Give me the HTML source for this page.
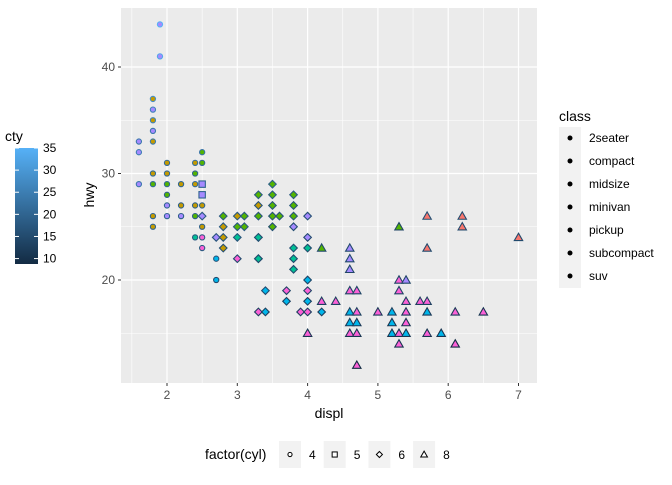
<!DOCTYPE html>
<html><head><meta charset="utf-8"><style>
body{margin:0;background:#fff;font-family:"Liberation Sans",sans-serif;}
svg text{font-family:"Liberation Sans",sans-serif;}
</style></head><body>
<svg id="chart" width="672" height="480" xmlns="http://www.w3.org/2000/svg">
<rect x="0" y="0" width="672" height="480" fill="#fff"/>
<rect x="121" y="8" width="416" height="375" fill="#EBEBEB"/>
<g id="grid"></g>
<g id="axes"></g>
<g id="points"></g>
<text x="329" y="418" font-size="14" text-anchor="middle" fill="#000">displ</text>
<text x="94" y="195" font-size="14" text-anchor="middle" fill="#000" transform="rotate(-90 94 195)">hwy</text>
<g>
<text x="5" y="141" font-size="14" fill="#000">cty</text>
<defs><linearGradient id="ctyg" x1="0" y1="1" x2="0" y2="0"><stop offset="0" stop-color="#132B43"/><stop offset="1" stop-color="#56B1F7"/></linearGradient></defs>
<rect x="15" y="148" width="23" height="116" fill="url(#ctyg)"/>
<g id="ctyticks"></g>
</g>
<g>
<text x="559" y="121" font-size="14" fill="#000">class</text>
<rect x="559" y="127" width="22" height="161" fill="#F2F2F2"/>
<g id="classkeys"></g>
</g>
<g>
<text x="205" y="459" font-size="14" fill="#000">factor(cyl)</text>
<g id="cylkeys"></g>
</g>
</svg>
<script>
const NS="http://www.w3.org/2000/svg";
const xTicks=[2,3,4,5,6,7];
const yTicks=[20,30,40];
const classes=["2seater","compact","midsize","minivan","pickup","subcompact","suv"];
const classColors=["#F8766D","#C49A00","#53B400","#00C094","#00B6EB","#A58AFF","#FB61D7"];
const cylLevels=[4,5,6,8];
const ctyTicks=[10,15,20,25,30,35];
// points: displ, hwy, cyl, class, cty
const displ=[1.9,1.9,1.8,1.8,1.8,1.8,1.8,1.6,1.6,2.5,2.0,2.4,2.5,1.8,2.0,2.4,1.6,1.8,2.0,2.2,2.4,2.5,2.0,2.5,2.0,2.2,2.4,2.5,1.8,2.0,2.2,2.4,2.5,2.8,3.0,3.1,3.3,1.8,2.5,2.8,3.0,3.1,2.4,2.5,2.7,2.8,3.0,3.3,2.5,2.8,2.7,3.0,3.3,2.7,
3.5,3.3,3.5,3.8,3.3,3.5,3.8,3.5,3.6,3.8,4.0,3.5,3.8,3.3,4.0,3.8,4.0,4.2,4.6,3.3,3.8,4.6,3.8,4.6,4.0,3.4,3.7,4.0,4.6,4.7,3.7,4.0,4.2,4.4,3.3,3.4,3.9,4.0,4.2,
5.7,6.2,5.3,6.2,7.0,5.7,5.3,5.4,5.3,5.4,5.6,5.7,4.6,4.7,5.0,5.2,5.4,5.7,6.1,6.5,4.6,4.7,5.2,5.4,4.0,4.6,4.7,5.2,5.3,5.4,5.7,5.9,5.3,6.1,4.7];
const hwy=[44,41,37,36,35,34,33,33,32,32,31,31,31,30,30,30,29,29,29,29,29,29,28,28,27,27,27,27,26,26,26,26,26,26,26,26,26,25,25,25,25,25,24,24,24,24,24,24,23,23,22,22,22,20,
29,28,28,28,27,27,27,26,26,26,26,25,25,24,24,23,23,23,23,22,22,22,21,21,20,19,19,19,19,19,18,18,18,18,17,17,17,17,17,
26,26,25,25,24,23,20,20,19,18,18,18,17,17,17,17,17,17,17,17,16,16,16,16,15,15,15,15,15,15,15,15,14,14,12];
const cyl=[4,4,4,4,4,4,4,4,4,4,4,4,4,4,4,4,4,4,4,4,4,5,4,5,4,4,4,4,4,4,4,4,6,6,6,6,6,4,4,6,6,6,4,4,6,6,6,6,4,6,4,6,6,4,
6,6,6,6,6,6,6,6,6,6,6,6,6,6,6,6,6,8,8,6,6,8,6,8,6,6,6,6,8,8,6,6,8,8,6,6,6,6,6,
8,8,8,8,8,8,8,8,8,8,8,8,8,8,8,8,8,8,8,8,8,8,8,8,8,8,8,8,8,8,8,8,8,8,8];
const cls=["subcompact","subcompact","compact","subcompact","compact","subcompact","compact","subcompact","subcompact","midsize","compact","compact","midsize","compact","compact","midsize","subcompact","midsize","midsize","compact","compact","subcompact","midsize","subcompact","subcompact","compact","compact","compact","compact","subcompact","subcompact","midsize","subcompact","midsize","compact","midsize","midsize","compact","compact","compact","midsize","midsize","minivan","suv","subcompact","compact","minivan","minivan","suv","compact","pickup","suv","minivan","pickup",
"midsize","midsize","midsize","midsize","compact","midsize","midsize","midsize","midsize","midsize","subcompact","midsize","subcompact","minivan","subcompact","minivan","minivan","midsize","subcompact","minivan","minivan","subcompact","minivan","subcompact","pickup","pickup","suv","suv","suv","suv","pickup","pickup","suv","suv","suv","pickup","suv","suv","pickup",
"2seater","2seater","midsize","2seater","2seater","2seater","suv","subcompact","suv","suv","suv","suv","pickup","suv","suv","pickup","suv","pickup","suv","suv","pickup","pickup","pickup","suv","suv","suv","suv","pickup","suv","pickup","suv","pickup","suv","suv","suv"];
const cty=[35,33,28,26,26,24,24,24,25,23,21,22,21,21,21,20,24,21,21,20,21,20,19,20,20,19,19,20,20,20,19,19,18,18,18,18,17,20,19,18,18,18,18,18,17,17,17,16,18,16,17,15,16,15,
19,18,18,18,17,17,17,17,17,17,16,16,16,16,15,16,15,15,15,15,15,15,15,14,14,15,14,14,14,14,13,13,13,13,13,13,13,13,13,
16,15,14,15,15,15,14,14,14,13,13,13,13,13,12,13,12,12,12,11,12,12,11,11,11,11,11,11,11,11,11,11,11,9,9];
function xs(d){return 167+(d-2)*70.3;}
function ys(h){return 173.5-(h-30)*10.65;}
function ctyColor(v){const t=Math.max(0,Math.min(1,(v-9)/26));const a=[0x13,0x2B,0x43],b=[0x56,0xB1,0xF7];return "rgb("+a.map((c,i)=>Math.round(c+(b[i]-c)*t)).join(",")+")";}
function mk(tag,attrs,parent){const e=document.createElementNS(NS,tag);for(const k in attrs)e.setAttribute(k,attrs[k]);parent.appendChild(e);return e;}
function shapeEl(c,x,y,parent,fill,stroke,sw,scale){
  let e;
  if(c===4){e=mk("circle",{cx:x,cy:y,r:2.6*scale,fill:fill,stroke:stroke,"stroke-width":sw},parent);}
  else if(c===5){const s=3.2*scale;e=mk("rect",{x:x-s,y:y-s,width:2*s,height:2*s,fill:fill,stroke:stroke,"stroke-width":sw},parent);}
  else if(c===6){const s=3.8*scale;e=mk("polygon",{points:`${x},${y-s} ${x+s},${y} ${x},${y+s} ${x-s},${y}`,fill:fill,stroke:stroke,"stroke-width":sw},parent);}
  else {const s=4.2*scale;e=mk("polygon",{points:`${x},${y-s} ${x+s},${y+s*0.75} ${x-s},${y+s*0.75}`,fill:fill,stroke:stroke,"stroke-width":sw},parent);}
  return e;
}
const grid=document.getElementById("grid");
[1.5,2.5,3.5,4.5,5.5,6.5].forEach(v=>{const l=mk("line",{x1:xs(v),x2:xs(v),y1:8,y2:383,stroke:"#fff","stroke-width":0.6},grid);

});
[15,25,35].forEach(v=>{const l=mk("line",{x1:121,x2:537,y1:ys(v),y2:ys(v),stroke:"#fff","stroke-width":0.6},grid);

});
const axes=document.getElementById("axes");
xTicks.forEach(v=>{const l=mk("line",{x1:xs(v),x2:xs(v),y1:8,y2:383,stroke:"#fff","stroke-width":1.2},grid);


mk("line",{x1:xs(v),x2:xs(v),y1:383,y2:386,stroke:"#333","stroke-width":1},axes);
const t=mk("text",{x:xs(v),y:399,"font-size":12,"text-anchor":"middle",fill:"#4D4D4D"},axes);t.textContent=v;

});
yTicks.forEach(v=>{const l=mk("line",{x1:121,x2:537,y1:ys(v),y2:ys(v),stroke:"#fff","stroke-width":1.2},grid);


mk("line",{x1:118,x2:121,y1:ys(v),y2:ys(v),stroke:"#333","stroke-width":1},axes);
const t=mk("text",{x:115,y:ys(v)+4,"font-size":12,"text-anchor":"end",fill:"#4D4D4D"},axes);t.textContent=v;

});
const pts=document.getElementById("points");
for(let i=0;i<displ.length;i++){
  const e=shapeEl(cyl[i],xs(displ[i]),ys(hwy[i]),pts,classColors[classes.indexOf(cls[i])],ctyColor(cty[i]),1.1,1);
  
  
}
const ct=document.getElementById("ctyticks");
ctyTicks.forEach(v=>{const y=263-(v-9)*(115/26);
mk("line",{x1:15,x2:19,y1:y,y2:y,stroke:"#fff","stroke-width":1},ct);
mk("line",{x1:34,x2:38,y1:y,y2:y,stroke:"#fff","stroke-width":1},ct);
const t=mk("text",{x:43,y:y+4,"font-size":12,fill:"#000"},ct);t.textContent=v;

});
const ck=document.getElementById("classkeys");
classes.forEach((c,i)=>{const y=138+i*23;
const d=mk("circle",{cx:570,cy:y,r:2.5,fill:"#000"},ck);


const t=mk("text",{x:589,y:y+4,"font-size":12,fill:"#000"},ck);t.textContent=c;

});
const yk=document.getElementById("cylkeys");
cylLevels.forEach((c,i)=>{const x=279+i*44.7;
const r=mk("rect",{x:x,y:441,width:22,height:27,fill:"#F2F2F2"},yk);


shapeEl(c,x+11,454.5,yk,"#fff","#000",1,0.8);
const t=mk("text",{x:x+30,y:459,"font-size":12,fill:"#000"},yk);t.textContent=c;

});
</script>
</body></html>
